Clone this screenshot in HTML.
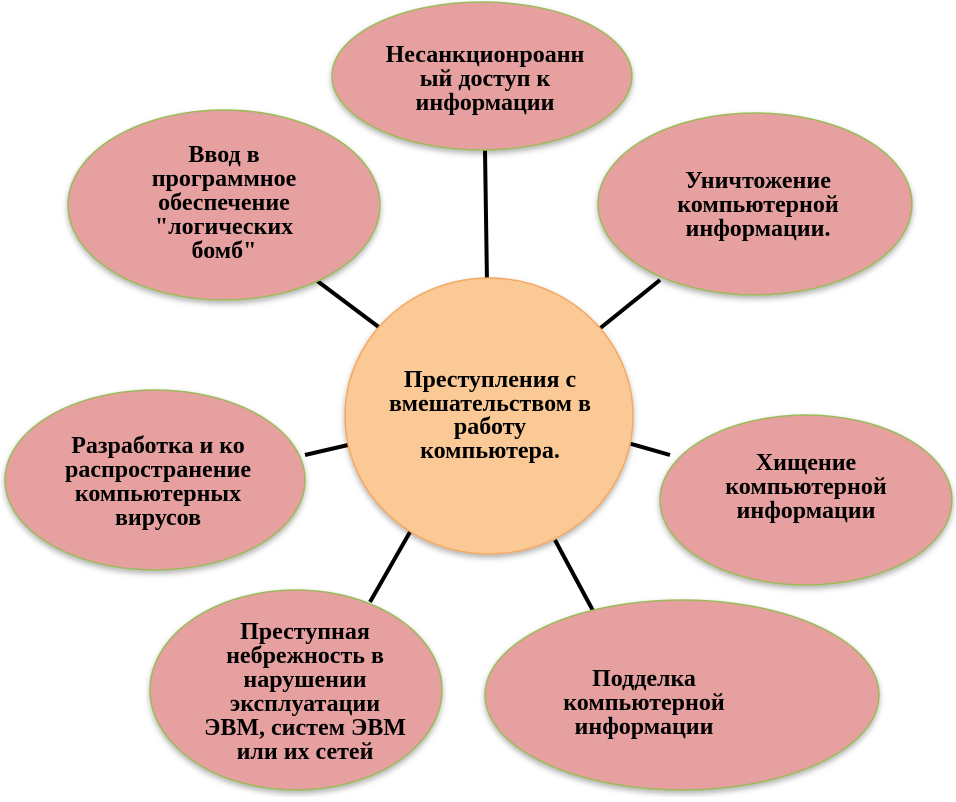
<!DOCTYPE html>
<html><head><meta charset="utf-8"><style>
body{margin:0;background:#fff;}
svg text{font-family:"Liberation Serif",serif;font-weight:bold;font-size:24px;fill:#000;text-anchor:middle;}
</style></head><body>
<svg width="956" height="797" viewBox="0 0 956 797" xmlns="http://www.w3.org/2000/svg">
<defs><filter id="sh" x="-10%" y="-10%" width="120%" height="130%"><feDropShadow dx="0" dy="3" stdDeviation="3" flood-color="#000" flood-opacity="0.3"/></filter></defs>
<g stroke="#000" stroke-width="4">
<line x1="485" y1="150" x2="487" y2="283"/>
<line x1="312" y1="277" x2="380" y2="328"/>
<line x1="660" y1="280" x2="598" y2="330"/>
<line x1="305" y1="455" x2="348" y2="445"/>
<line x1="628" y1="443" x2="670" y2="455"/>
<line x1="410" y1="532" x2="370" y2="602"/>
<line x1="555" y1="540" x2="598" y2="620"/>
</g>
<g fill="#e5a09f" stroke="#9bbb59" stroke-width="1.5" filter="url(#sh)">
<ellipse cx="482" cy="76" rx="150" ry="74"/>
<ellipse cx="224" cy="205" rx="156" ry="95"/>
<ellipse cx="755" cy="204" rx="157" ry="91"/>
<ellipse cx="155" cy="480" rx="150" ry="90"/>
<ellipse cx="806" cy="500" rx="146" ry="85"/>
<ellipse cx="296" cy="690" rx="146" ry="100"/>
<ellipse cx="682" cy="695" rx="197" ry="95"/>
</g>
<ellipse cx="489" cy="416" rx="144" ry="138" fill="#fbc996" stroke="#f5a860" stroke-width="1.5" filter="url(#sh)"/>
<text x="485" y="62">Несанкционроанн</text>
<text x="485" y="86">ый доступ к</text>
<text x="485" y="110">информации</text>
<text x="224" y="162">Ввод в</text>
<text x="224" y="186">программное</text>
<text x="224" y="210">обеспечение</text>
<text x="224" y="234">"логических</text>
<text x="224" y="258">бомб"</text>
<text x="758" y="188">Уничтожение</text>
<text x="758" y="212">компьютерной</text>
<text x="758" y="236">информации.</text>
<text x="490" y="387">Преступления с</text>
<text x="490" y="411">вмешательством в</text>
<text x="490" y="434">работу</text>
<text x="490" y="458">компьютера.</text>
<text x="158" y="453">Разработка и  ко</text>
<text x="158" y="477">распространение</text>
<text x="158" y="501">компьютерных</text>
<text x="158" y="525">вирусов</text>
<text x="806" y="470">Хищение</text>
<text x="806" y="494">компьютерной</text>
<text x="806" y="518">информации</text>
<text x="305" y="639">Преступная</text>
<text x="305" y="663">небрежность  в</text>
<text x="305" y="687">нарушении</text>
<text x="305" y="711">эксплуатации</text>
<text x="305" y="735">ЭВМ, систем ЭВМ</text>
<text x="305" y="759">или их сетей</text>
<text x="644" y="686">Подделка</text>
<text x="644" y="710">компьютерной</text>
<text x="644" y="734">информации</text>
</svg>
</body></html>
